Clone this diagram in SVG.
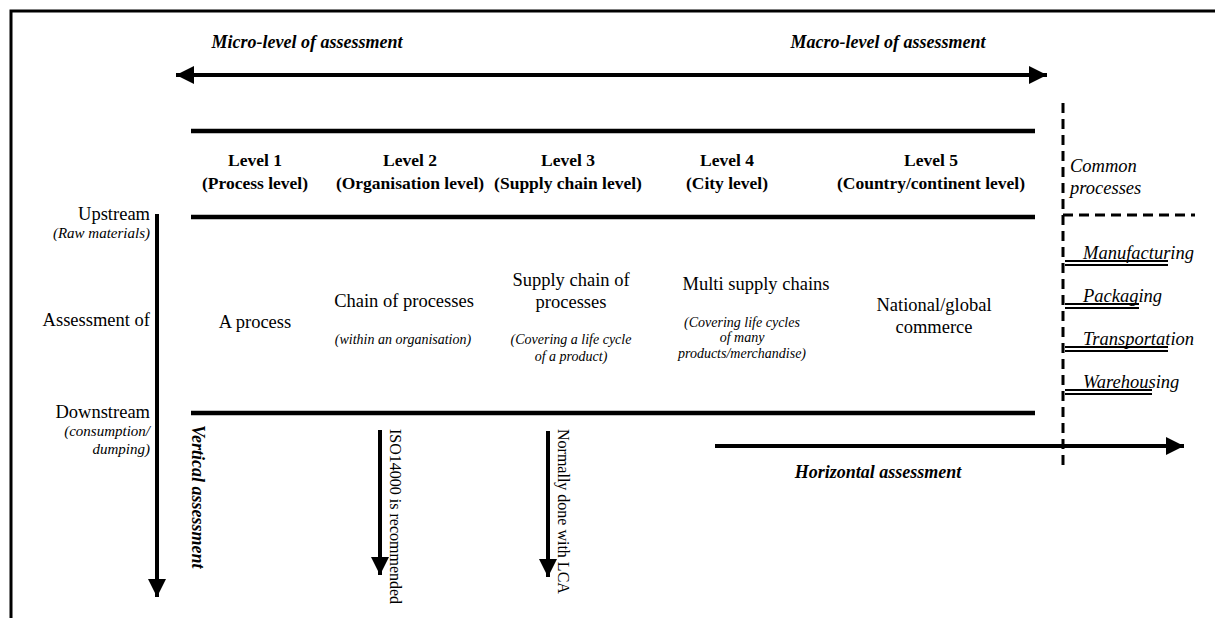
<svg xmlns="http://www.w3.org/2000/svg" width="1215" height="618" viewBox="0 0 1215 618">
<style>
text{font-family:"Liberation Serif","Times New Roman",serif;fill:#000}
.hd{font-size:18px;font-weight:bold;font-style:italic}
.lv{font-size:17.5px;font-weight:bold;text-anchor:middle}
.bd{font-size:18.5px;text-anchor:middle}
.sm{font-size:14px;font-style:italic;text-anchor:middle}
.lb{font-size:18.5px;text-anchor:end}
.lbs{font-size:15px;font-style:italic;text-anchor:end}
.cp{font-size:18.5px;font-style:italic}
.rt{font-size:16px}
.thick{stroke:#000;stroke-width:4.5;fill:none}
.arr{stroke:#000;stroke-width:4;fill:none}
.dash{stroke:#000;stroke-width:3;fill:none;stroke-dasharray:10 6}
.ul{stroke:#000;stroke-width:1.8;fill:none}
</style>
<defs>
<marker id="ah" viewBox="0 0 10 10" refX="10" refY="5" markerWidth="4.5" markerHeight="4.5" markerUnits="strokeWidth" orient="auto-start-reverse">
<path d="M0,0 L10,5 L0,10 Z" fill="#000"/>
</marker>
</defs>
<rect id="frame" x="11" y="11" width="1220" height="620" fill="none" stroke="#000" stroke-width="3"/>

<g id="connectors">
<line class="arr" x1="176" y1="75" x2="1047" y2="75" marker-start="url(#ah)" marker-end="url(#ah)"/>
<line class="thick" x1="191" y1="131" x2="1035" y2="131"/>
<line class="thick" x1="191" y1="217" x2="1035" y2="217"/>
<line class="thick" x1="191" y1="413" x2="1035" y2="413"/>
<line class="arr" x1="157" y1="214" x2="157" y2="597" marker-end="url(#ah)"/>
<line class="arr" x1="380" y1="430" x2="380" y2="575" marker-end="url(#ah)"/>
<line class="arr" x1="548" y1="431" x2="548" y2="577" marker-end="url(#ah)"/>
<line class="arr" x1="715" y1="446" x2="1184" y2="446" marker-end="url(#ah)"/>
<line class="dash" x1="1063" y1="103" x2="1063" y2="470"/>
<line class="dash" x1="1063" y1="215" x2="1195" y2="215"/>
<g id="underlines">
<line class="ul" x1="1065" y1="261" x2="1168" y2="261"/><line class="ul" x1="1065" y1="265" x2="1168" y2="265"/>
<line class="ul" x1="1065" y1="304" x2="1139" y2="304"/><line class="ul" x1="1065" y1="308" x2="1139" y2="308"/>
<line class="ul" x1="1065" y1="347" x2="1168" y2="347"/><line class="ul" x1="1065" y1="351" x2="1168" y2="351"/>
<line class="ul" x1="1065" y1="390" x2="1152" y2="390"/><line class="ul" x1="1065" y1="394" x2="1152" y2="394"/>
</g>
</g>

<g id="scale-labels">
<text class="hd" x="307" y="48" text-anchor="middle">Micro-level of assessment</text>
<text class="hd" x="888" y="48" text-anchor="middle">Macro-level of assessment</text>
</g>

<g id="level1"><text class="lv" x="255" y="166">Level 1</text><text class="lv" x="255" y="189">(Process level)</text>
<text class="bd" x="255" y="328">A process</text></g>
<g id="level2"><text class="lv" x="410" y="166">Level 2</text><text class="lv" x="410" y="189">(Organisation level)</text>
<text class="bd" x="404" y="307">Chain of processes</text><text class="sm" x="403" y="344">(within an organisation)</text></g>
<g id="level3"><text class="lv" x="568" y="166">Level 3</text><text class="lv" x="568" y="189">(Supply chain level)</text>
<text class="bd" x="571" y="286">Supply chain of</text><text class="bd" x="571" y="308">processes</text>
<text class="sm" x="571" y="344">(Covering a life cycle</text><text class="sm" x="571" y="361">of a product)</text></g>
<g id="level4"><text class="lv" x="727" y="166">Level 4</text><text class="lv" x="727" y="189">(City level)</text>
<text class="bd" x="756" y="290">Multi supply chains</text>
<text class="sm" x="742" y="327">(Covering life cycles</text><text class="sm" x="742" y="342">of many</text><text class="sm" x="742" y="358">products/merchandise)</text></g>
<g id="level5"><text class="lv" x="931" y="166">Level 5</text><text class="lv" x="931" y="189">(Country/continent level)</text>
<text class="bd" x="934" y="311">National/global</text><text class="bd" x="934" y="333">commerce</text></g>

<g id="common">
<text class="cp" x="1070" y="172">Common</text><text class="cp" x="1070" y="194">processes</text>
<text class="cp" x="1083" y="259">Manufacturing</text>
<text class="cp" x="1083" y="302">Packaging</text>
<text class="cp" x="1083" y="345">Transportation</text>
<text class="cp" x="1083" y="388">Warehousing</text>
</g>

<g id="stream-labels">
<text class="lb" x="150" y="220">Upstream</text><text class="lbs" x="150" y="238">(Raw materials)</text>
<text class="lb" x="150" y="326">Assessment of</text>
<text class="lb" x="150" y="418">Downstream</text><text class="lbs" x="150" y="436">(consumption/</text><text class="lbs" x="150" y="454">dumping)</text>
</g>

<g id="vertical-labels">
<text class="hd" transform="translate(192,425) rotate(90)">Vertical assessment</text>
<text class="rt" transform="translate(390,429) rotate(90)">ISO14000 is recommended</text>
<text class="rt" transform="translate(558,429) rotate(90)">Normally done with LCA</text>
</g>
<g id="horizontal-label"><text class="hd" x="878" y="478" text-anchor="middle">Horizontal assessment</text></g>
</svg>
